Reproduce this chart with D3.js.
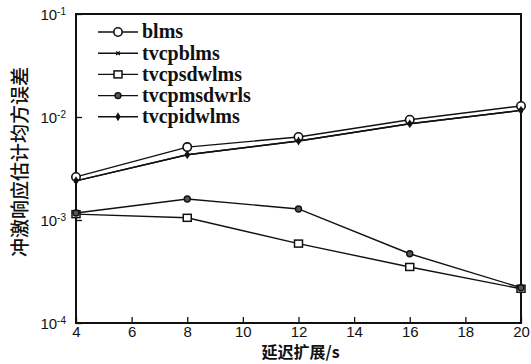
<!DOCTYPE html>
<html>
<head>
<meta charset="utf-8">
<script src="https://cdn.jsdelivr.net/npm/d3@7"></script>
<style>
  body { margin: 0; background: #fff; }
  svg text { fill: #111; }
</style>
</head>
<body>
<div id="chart"></div>
<script>
  'use strict';

  // data
  var delays = [4, 8, 12, 16, 20];
  var blms = [2.62e-3, 5.1e-3, 6.4e-3, 9.4e-3, 1.28e-2];
  var tvcpblms = [2.4e-3, 4.3e-3, 5.85e-3, 8.6e-3, 1.16e-2];
  var tvcpsdwlms = [1.14e-3, 1.05e-3, 5.9e-4, 3.5e-4, 2.15e-4];
  var tvcpmsdwrls = [1.17e-3, 1.6e-3, 1.28e-3, 4.7e-4, 2.2e-4];
  var tvcpidwlms = [2.4e-3, 4.3e-3, 5.85e-3, 8.6e-3, 1.16e-2];
  var xTicks = [4, 6, 8, 10, 12, 14, 16, 18, 20];
  var yTicks = [1e-4, 1e-3, 1e-2, 1e-1];
  var seriesNames = ['blms', 'tvcpblms', 'tvcpsdwlms', 'tvcpmsdwrls', 'tvcpidwlms'];
  var seriesValues = [blms, tvcpblms, tvcpsdwlms, tvcpmsdwrls, tvcpidwlms];
  var markers = ['circle', 'cross', 'square', 'dotcircle', 'diamond'];

  var W = 531, H = 364;
  var m = {left: 76, right: 10, top: 14, bottom: 41};

  var svg = d3.select('#chart').append('svg')
    .attr('width', W).attr('height', H);

  var x = d3.scaleLinear().domain([4, 20]).range([m.left, W - m.right]);
  var y = d3.scaleLog().domain([1e-4, 1e-1]).range([H - m.bottom, m.top]);

  // frame
  svg.append('rect')
    .attr('x', x(4)).attr('y', y(1e-1))
    .attr('width', x(20) - x(4)).attr('height', y(1e-4) - y(1e-1))
    .attr('fill', 'none').attr('stroke', '#111').attr('stroke-width', 2);

  // x axis, ticks pointing inward
  var xAxis = svg.append('g')
    .attr('transform', 'translate(0,' + y(1e-4) + ')')
    .call(d3.axisBottom(x).tickValues(xTicks).tickSizeInner(-6).tickSizeOuter(0).tickPadding(3));
  xAxis.select('.domain').remove();
  xAxis.selectAll('line').attr('stroke', '#111').attr('stroke-width', 1.3);
  xAxis.selectAll('text')
    .attr('font-family', 'Arial, Liberation Sans, sans-serif')
    .attr('font-size', 15).attr('fill', '#111');

  // y axis, log decades with superscript exponents
  var yAxis = svg.append('g')
    .attr('transform', 'translate(' + x(4) + ',0)')
    .call(d3.axisLeft(y).tickValues(yTicks).tickSizeInner(-6).tickSizeOuter(0).tickFormat(''));
  yAxis.select('.domain').remove();
  yAxis.selectAll('line').attr('stroke', '#111').attr('stroke-width', 1.3);
  yAxis.selectAll('.tick').each(function (d) {
    var t = d3.select(this).append('text')
      .attr('x', -10).attr('dy', '0.35em')
      .attr('text-anchor', 'end')
      .attr('font-family', 'Arial, Liberation Sans, sans-serif')
      .attr('font-size', 15).attr('fill', '#111');
    t.append('tspan').text('10');
    t.append('tspan').attr('dy', '-0.45em').attr('font-size', 10)
      .text('-' + Math.round(-Math.log10(d)));
  });

  // axis titles
  svg.append('text')
    .attr('x', (x(4) + x(20)) / 2 + 2).attr('y', H - 6)
    .attr('text-anchor', 'middle')
    .attr('font-family', 'Noto Sans CJK SC, sans-serif')
    .attr('font-weight', 'bold').attr('font-size', 16)
    .text('延迟扩展/s');

  svg.append('text')
    .attr('transform', 'translate(27,' + 162 + ') rotate(-90)')
    .attr('text-anchor', 'middle')
    .attr('font-family', 'Noto Sans CJK SC, sans-serif')
    .attr('font-weight', 500).attr('font-size', 19)
    .text('冲激响应估计均方误差');

  function drawMarker(g, kind, cx, cy) {
    if (kind === 'circle') {
      g.append('circle').attr('cx', cx).attr('cy', cy).attr('r', 4.2)
        .attr('fill', '#fff').attr('stroke', '#111').attr('stroke-width', 1.6);
    } else if (kind === 'square') {
      g.append('rect').attr('x', cx - 4).attr('y', cy - 3.5).attr('width', 8).attr('height', 7)
        .attr('fill', '#fff').attr('stroke', '#111').attr('stroke-width', 1.5);
    } else if (kind === 'dotcircle') {
      g.append('circle').attr('cx', cx).attr('cy', cy).attr('r', 3)
        .attr('fill', '#555').attr('stroke', '#111').attr('stroke-width', 1.4);
    } else if (kind === 'diamond') {
      g.append('path').attr('d', d3.symbol(d3.symbolDiamond, 24)())
        .attr('transform', 'translate(' + cx + ',' + cy + ')').attr('fill', '#111');
    } else {
      g.append('path').attr('d', d3.symbol(d3.symbolTimes, 10)())
        .attr('transform', 'translate(' + cx + ',' + cy + ')')
        .attr('fill', 'none').attr('stroke', '#111').attr('stroke-width', 1.3);
    }
  }

  var line = d3.line().x(function (d) { return x(d[0]); }).y(function (d) { return y(d[1]); });

  seriesValues.forEach(function (vals, i) {
    var pts = delays.map(function (dx, j) { return [dx, vals[j]]; });
    var g = svg.append('g');
    g.append('path').datum(pts).attr('d', line)
      .attr('fill', 'none').attr('stroke', '#111').attr('stroke-width', 1.4);
    pts.forEach(function (p) { drawMarker(g, markers[i], x(p[0]), y(p[1])); });
  });

  // legend, no box
  var legend = svg.append('g');
  seriesNames.forEach(function (name, i) {
    var ly = 32 + i * 21.2;
    legend.append('line').attr('x1', 98).attr('x2', 138).attr('y1', ly).attr('y2', ly)
      .attr('stroke', '#111').attr('stroke-width', 1.4);
    drawMarker(legend, markers[i], 118, ly);
    legend.append('text').attr('x', 142).attr('y', ly).attr('dy', '0.32em')
      .attr('font-family', 'Liberation Serif, Times New Roman, serif')
      .attr('font-weight', 'bold').attr('font-size', 20)
      .text(name);
  });
</script>
</body>
</html>
